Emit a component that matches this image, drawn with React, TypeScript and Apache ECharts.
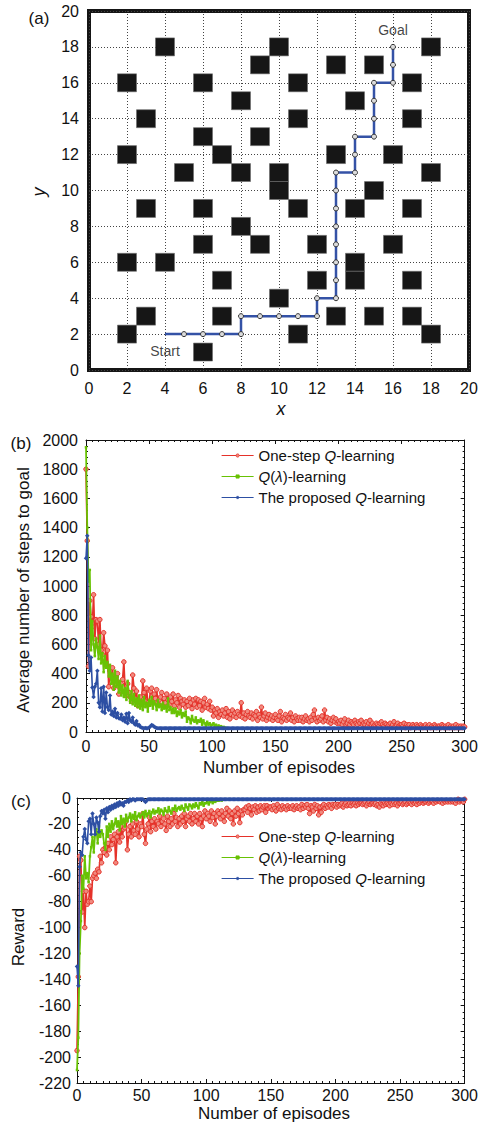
import React, { useEffect, useRef } from "react";
import * as echarts from "echarts";

const FONT = "'Liberation Sans', Arial, Helvetica, sans-serif";
const RED = "#e5322a";
const GREEN = "#68c204";
const BLUE = "#2d4fa3";

// ---------- Panel (a): grid world ----------
const obstacleX = [4, 10, 18, 9, 13, 15, 2, 6, 11, 17, 8, 14, 3, 11, 17, 6, 9, 2, 7, 13, 16, 5, 8, 10, 18, 10, 15, 3, 6, 11, 14, 17, 8, 6, 9, 12, 16, 2, 4, 14, 7, 12, 14, 17, 10, 3, 7, 13, 15, 17, 2, 11, 18, 6];
const obstacleY = [18, 18, 18, 17, 17, 17, 16, 16, 16, 16, 15, 15, 14, 14, 14, 13, 13, 12, 12, 12, 12, 11, 11, 11, 11, 10, 10, 9, 9, 9, 9, 9, 8, 7, 7, 7, 7, 6, 6, 6, 5, 5, 5, 5, 4, 3, 3, 3, 3, 3, 2, 2, 2, 1];
const pathX = [4, 5, 6, 7, 8, 8, 9, 10, 11, 12, 12, 13, 13, 13, 13, 13, 13, 13, 13, 14, 14, 14, 15, 15, 15, 15, 16, 16, 16];
const pathY = [2, 2, 2, 2, 2, 3, 3, 3, 3, 3, 4, 4, 5, 6, 7, 8, 9, 10, 11, 11, 12, 13, 13, 14, 15, 16, 16, 17, 18];
const pathLabels = ["Start", "Goal"];

// ---------- Panel (b): steps to goal per episode ----------
const seriesNames = ["One-step Q-learning", "Q(λ)-learning", "The proposed Q-learning"];

const redSteps = [
  1800, 1310, 450, 900, 790, 720, 940, 640, 770, 760,
  600, 770, 560, 530, 680, 590, 460, 560, 310, 420,
  370, 440, 300, 330, 380, 400, 260, 300, 330, 360,
  480, 280, 250, 330, 270, 240, 210, 390, 300, 230,
  280, 180, 220, 240, 200, 350, 270, 210, 300, 200,
  190, 280, 300, 210, 260, 230, 290, 200, 220, 240,
  270, 180, 230, 200, 260, 220, 190, 240, 210, 260,
  180, 220, 200, 250, 170, 230, 210, 190, 220, 170,
  210, 180, 230, 200, 160, 220, 190, 230, 170, 220,
  180, 210, 150, 200, 230, 170, 190, 160, 210, 150,
  170, 110, 150, 130, 160, 100, 140, 120, 150, 110,
  130, 160, 100, 140, 90, 120, 150, 110, 130, 100,
  140, 120, 110, 200, 100, 130, 90, 120, 140, 110,
  100, 130, 90, 120, 110, 140, 80, 120, 100, 170,
  90, 110, 130, 80, 100, 120, 90, 110, 80, 100,
  120, 90, 80, 110, 140, 70, 100, 90, 120, 80,
  100, 90, 130, 80, 100, 70, 110, 90, 80, 100,
  80, 100, 70, 90, 110, 80, 90, 70, 100, 80,
  120, 150, 90, 70, 100, 80, 90, 110, 70, 150,
  80, 100, 70, 90, 60, 80, 100, 70, 90, 60,
  70, 60, 80, 50, 70, 90, 50, 60, 80, 50,
  70, 60, 50, 80, 60, 50, 70, 60, 80, 50,
  60, 50, 70, 40, 60, 80, 50, 60, 40, 50,
  60, 50, 40, 60, 70, 50, 40, 60, 50, 40,
  50, 60, 40, 50, 70, 40, 50, 60, 40, 50,
  50, 40, 60, 30, 50, 40, 50, 30, 40, 50,
  40, 30, 50, 40, 30, 50, 40, 30, 40, 50,
  30, 40, 50, 30, 40, 30, 50, 40, 30, 40,
  40, 30, 50, 40, 30, 40, 30, 50, 30, 40,
  30, 40, 30, 50, 30, 40, 30, 40, 30, 40,
  35,
];

const greenSteps = [
  1950, 1400, 1030, 1110, 560, 760, 600, 520, 640, 580,
  500, 660, 470, 540, 410, 520, 440, 480, 380, 460,
  330, 400, 290, 420, 310, 380, 270, 350, 250, 320,
  240, 300, 220, 350, 250, 200, 280, 190, 260, 180,
  230, 170, 250, 160, 220, 150, 240, 170, 200, 140,
  220, 180, 240, 160, 210, 190, 150, 220, 170, 190,
  150, 200, 160, 180, 140, 230, 150, 170, 130, 160,
  130, 160, 110, 140, 120, 150, 100, 130, 110, 140,
  70, 100, 90, 60, 110, 80, 70, 100, 60, 80,
  70, 90, 50, 80, 60, 40, 70, 50, 60, 40,
  50, 60, 40, 50, 30, 45, 35, 40, 30, 35,
  30, 28, 25, 25,
];

const blueSteps = [
  1190, 1345, 525, 420, 510, 305, 240, 310, 330, 420,
  200, 170, 300, 140, 310, 130, 270, 170, 150, 250,
  120, 140, 110, 160, 100, 130, 95, 90, 120, 80,
  100, 70, 125, 60, 130, 80, 70, 100, 60, 50,
  75, 45, 50, 35, 30, 28, 26, 27, 25, 26,
  30, 38, 48, 45, 36, 30, 27, 26, 25, 25,
  25, 25, 25, 25, 25, 25, 25, 25, 25, 25, 25, 25, 25, 25, 25, 25, 25, 25, 25, 25,
  25, 25, 25, 25, 25, 25, 25, 25, 25, 25, 25, 25, 25, 25, 25, 25, 25, 25, 25, 25,
  25, 25, 25, 25, 25, 25, 25, 25, 25, 25, 25, 25, 25, 25, 25, 25, 25, 25, 25, 25,
  25, 25, 25, 25, 25, 25, 25, 25, 25, 25, 25, 25, 25, 25, 25, 25, 25, 25, 25, 25,
  25, 25, 25, 25, 25, 25, 25, 25, 25, 25, 25, 25, 25, 25, 25, 25, 25, 25, 25, 25,
  25, 25, 25, 25, 25, 25, 25, 25, 25, 25, 25, 25, 25, 25, 25, 25, 25, 25, 25, 25,
  25, 25, 25, 25, 25, 25, 25, 25, 25, 25, 25, 25, 25, 25, 25, 25, 25, 25, 25, 25,
  25, 25, 25, 25, 25, 25, 25, 25, 25, 25, 25, 25, 25, 25, 25, 25, 25, 25, 25, 25,
  25, 25, 25, 25, 25, 25, 25, 25, 25, 25, 25, 25, 25, 25, 25, 25, 25, 25, 25, 25,
  25, 25, 25, 25, 25, 25, 25, 25, 25, 25, 25, 25, 25, 25, 25, 25, 25, 25, 25, 25,
  25, 25, 25, 25, 25, 25, 25, 25, 25, 25, 25, 25, 25, 25, 25, 25, 25, 25, 25, 25,
  25, 25, 25, 25, 25, 25, 25, 25, 25, 25, 25, 25, 25, 25, 25, 25, 25, 25, 25, 25,
  25,
];

// ---------- Panel (c): reward per episode ----------
const redReward = [
  -195, -138, -45, -48, -88, -72, -100, -72, -82, -80,
  -68, -80, -62, -60, -58, -62, -55, -57, -45, -50,
  -40, -42, -38, -44, -35, -40, -30, -36, -32, -28,
  -50, -30, -26, -34, -22, -30, -24, -23, -18, -40,
  -28, -22, -30, -20, -25, -28, -18, -24, -30, -20,
  -22, -12, -28, -35, -24, -20, -15, -26, -18, -22,
  -16, -24, -18, -20, -14, -22, -18, -16, -20, -25,
  -14, -18, -22, -16, -20, -12, -18, -15, -22, -16,
  -20, -14, -18, -12, -22, -16, -14, -18, -12, -20,
  -16, -12, -18, -14, -20, -12, -16, -22, -14, -10,
  -16, -12, -14, -18, -10, -15, -12, -20, -14, -10,
  -12, -16, -10, -14, -18, -12, -8, -14, -10, -16,
  -12, -20, -10, -14, -8, -12, -19, -10, -13, -9,
  -9, -7, -11, -6, -8, -13, -7, -9, -6, -11,
  -7, -10, -6, -9, -7, -6, -11, -6, -8, -7,
  -7, -9, -6, -8, -10, -5, -8, -7, -9, -6,
  -8, -7, -9, -6, -8, -7, -8, -6, -9, -7,
  -6, -8, -7, -9, -5, -8, -6, -7, -5, -8,
  -12, -6, -7, -10, -5, -8, -6, -13, -7, -11,
  -6, -5, -8, -6, -7, -5, -6, -8, -5, -6,
  -5, -7, -5, -6, -5, -4, -7, -5, -4, -6,
  -5, -4, -6, -4, -5, -4, -6, -4, -5, -4,
  -4, -5, -4, -3, -6, -4, -3, -5, -4, -4,
  -5, -4, -6, -5, -7, -4, -5, -6, -4, -5,
  -4, -5, -6, -4, -5, -3, -5, -4, -6, -4,
  -4, -3, -5, -4, -3, -5, -4, -3, -4, -5,
  -3, -4, -3, -5, -3, -4, -3, -2, -4, -3,
  -3, -2, -4, -3, -2, -3, -4, -2, -3, -2,
  -2, -3, -2, -4, -2, -3, -2, -3, -2, -3,
  -2, -3, -2, -4, -2, -1, -3, -2, -2, -3,
  -1,
];

const greenReward = [
  -210, -185, -120, -95, -60, -70, -45, -62, -58, -65,
  -45, -38, -30, -42, -28, -24, -35, -22, -30, -25,
  -28, -35, -40, -22, -30, -20, -26, -18, -24, -20,
  -16, -22, -18, -25, -14, -20, -16, -22, -13, -18,
  -15, -12, -18, -13, -16, -11, -17, -14, -12, -15,
  -13, -11, -15, -10, -14, -12, -10, -15, -11, -9,
  -12, -10, -11, -8, -12, -9, -10, -13, -8, -10,
  -11, -7, -10, -12, -8, -9, -6, -10, -8, -7,
  -9, -6, -8, -10, -5, -7, -9, -5, -6, -8,
  -5, -7, -4, -6, -8, -4, -5, -3, -6, -4,
  -4, -3, -5, -3, -2, -4, -2, -3, -2, -2,
  -2, -1, -2, -1,
];

const blueReward = [
  -130, -145, -53, -42, -44, -30, -24, -32, -35, -18,
  -16, -28, -12, -20, -28, -15, -19, -26, -14, -10,
  -12, -9, -16, -8, -11, -7, -9, -6, -8, -5,
  -7, -4, -6, -3, -5, -4, -6, -3, -3, -2,
  -3, -1, -2, -1, -1, -2, -1, -1, -1, -1,
  -1, -1, -2, -3, -2, -1, -1, -1, -1, -1,
  -1, -1, -1, -1, -1, -1, -1, -1, -1, -1, -1, -1, -1, -1, -1, -1, -1, -1, -1, -1,
  -1, -1, -1, -1, -1, -1, -1, -1, -1, -1, -1, -1, -1, -1, -1, -1, -1, -1, -1, -1,
  -1, -1, -1, -1, -1, -1, -1, -1, -1, -1, -1, -1, -1, -1, -1, -1, -1, -1, -1, -1,
  -1, -1, -1, -1, -1, -1, -1, -1, -1, -1, -1, -1, -1, -1, -1, -1, -1, -1, -1, -1,
  -1, -1, -1, -1, -1, -1, -1, -1, -1, -1, -1, -1, -1, -1, -1, -1, -1, -1, -1, -1,
  -1, -1, -1, -1, -1, -1, -1, -1, -1, -1, -1, -1, -1, -1, -1, -1, -1, -1, -1, -1,
  -1, -1, -1, -1, -1, -1, -1, -1, -1, -1, -1, -1, -1, -1, -1, -1, -1, -1, -1, -1,
  -1, -1, -1, -1, -1, -1, -1, -1, -1, -1, -1, -1, -1, -1, -1, -1, -1, -1, -1, -1,
  -1, -1, -1, -1, -1, -1, -1, -1, -1, -1, -1, -1, -1, -1, -1, -1, -1, -1, -1, -1,
  -1, -1, -1, -1, -1, -1, -1, -1, -1, -1, -1, -1, -1, -1, -1, -1, -1, -1, -1, -1,
  -1, -1, -1, -1, -1, -1, -1, -1, -1, -1, -1, -1, -1, -1, -1, -1, -1, -1, -1, -1,
  -1, -1, -1, -1, -1, -1, -1, -1, -1, -1, -1, -1, -1, -1, -1, -1, -1, -1, -1, -1,
  -1,
];

const toPairs = (arr: number[]) => arr.map((v, i) => [i, v]);

function lineSeries(name: string, data: number[], xi: number, yi: number, kind: number) {
  const styles = [
    { symbol: "circle", symbolSize: 4.5, lineW: 1.7, color: RED, fill: "#f08a7f", border: RED, bw: 1 },
    { symbol: "rect", symbolSize: 2.5, lineW: 1.8, color: GREEN, fill: GREEN, border: GREEN, bw: 0 },
    { symbol: "diamond", symbolSize: 4.5, lineW: 1.6, color: BLUE, fill: BLUE, border: BLUE, bw: 0 },
  ][kind];
  return {
    name,
    type: "line",
    xAxisIndex: xi,
    yAxisIndex: yi,
    data: toPairs(data),
    symbol: styles.symbol,
    symbolSize: styles.symbolSize,
    showAllSymbol: true,
    lineStyle: { color: styles.color, width: styles.lineW },
    itemStyle: { color: styles.fill, borderColor: styles.border, borderWidth: styles.bw },
    emphasis: { disabled: true },
    z: 2 + kind,
  };
}

const frameAxis = (gridIndex: number, pos: string, min: number, max: number, interval: number, minorSplit: number, showLabel: boolean, margin: number) => ({
  gridIndex,
  type: "value",
  position: pos,
  min,
  max,
  interval,
  axisLine: { show: true, onZero: false, lineStyle: { color: "#111", width: 1 } },
  axisTick: { show: true, inside: true, length: 4, lineStyle: { color: "#111", width: 1 } },
  minorTick: { show: true, splitNumber: minorSplit, length: 2, lineStyle: { color: "#111", width: 1 } },
  axisLabel: {
    show: showLabel,
    fontSize: 16,
    color: "#111",
    margin,
    fontFamily: FONT,
    formatter: (v: number) => String(v),
  },
  splitLine: { show: false },
});

const legendFor = (top: number) => ({
  orient: "vertical",
  left: 216,
  top,
  itemWidth: 32,
  itemHeight: 4,
  itemGap: 6,
  data: seriesNames,
  lineStyle: { width: 1.2 },
  itemStyle: { borderWidth: 0.8 },
  formatter: (name: string) => name.replace("Q", "{i|Q}").replace("λ", "{i|λ}"),
  textStyle: {
    fontSize: 15,
    color: "#111",
    fontFamily: FONT,
    rich: { i: { fontStyle: "italic", fontSize: 15, color: "#111", fontFamily: FONT } },
  },
});

const txt = (text: string, x: number, y: number, size: number, extra: any = {}) => ({
  type: "text",
  x,
  y,
  rotation: extra.rotation || 0,
  silent: true,
  style: {
    text,
    fill: "#111",
    fontSize: size,
    fontFamily: FONT,
    fontStyle: extra.italic ? "italic" : "normal",
    align: "center",
    verticalAlign: "middle",
    textAlign: "center",
    textVerticalAlign: "middle",
  },
});

export default function App() {
  const ref = useRef<HTMLDivElement>(null);
  useEffect(() => {
    if (!ref.current) return;
    const chart = echarts.init(ref.current, null, { renderer: "svg" });
    const gridAxisA = {
      gridIndex: 0,
      type: "value",
      min: 0,
      max: 20,
      interval: 2,
      axisLine: { show: false },
      axisTick: { show: false },
      axisLabel: { fontSize: 16, color: "#111", margin: 10, fontFamily: FONT },
      splitLine: { show: true, lineStyle: { type: [1, 2], color: "#444", width: 1 } },
    };
    const option: any = {
      animation: false,
      textStyle: { fontFamily: FONT },
      grid: [
        { left: 89, top: 11, width: 380, height: 359, show: true, borderColor: "#151515", borderWidth: 4, backgroundColor: "transparent" },
        { left: 86, top: 440, width: 381, height: 292 },
        { left: 77, top: 798, width: 389, height: 285 },
      ],
      xAxis: [
        { ...gridAxisA },
        frameAxis(1, "bottom", 0, 300, 50, 10, true, 6),
        frameAxis(1, "top", 0, 300, 50, 10, false, 6),
        frameAxis(2, "bottom", 0, 300, 50, 10, true, 4),
        frameAxis(2, "top", 0, 300, 50, 10, false, 4),
      ],
      yAxis: [
        { ...gridAxisA },
        frameAxis(1, "left", 0, 2000, 200, 5, true, 8),
        frameAxis(1, "right", 0, 2000, 200, 5, false, 8),
        frameAxis(2, "left", -220, 0, 20, 4, true, 6),
        frameAxis(2, "right", -220, 0, 20, 4, false, 6),
      ],
      legend: [legendFor(443), legendFor(824)],
      series: [
        {
          type: "custom",
          xAxisIndex: 0,
          yAxisIndex: 0,
          silent: true,
          z: 2,
          data: obstacleX.map((x, i) => [x, obstacleY[i]]),
          renderItem: (params: any, api: any) => {
            const x = api.value(0);
            const y = api.value(1);
            const p1 = api.coord([x - 0.5, y + 0.5]);
            const p2 = api.coord([x + 0.5, y - 0.5]);
            return {
              type: "rect",
              shape: { x: p1[0], y: p1[1], width: p2[0] - p1[0], height: p2[1] - p1[1] },
              style: { fill: "#161616", stroke: "#6a6a6a", lineWidth: 0.6 },
            };
          },
        },
        {
          type: "line",
          xAxisIndex: 0,
          yAxisIndex: 0,
          z: 4,
          data: pathX.map((x, i) => (i === 0 ? { value: [x, pathY[i]], symbol: "none" } : [x, pathY[i]])),
          symbol: "circle",
          symbolSize: 5,
          lineStyle: { color: "#3452a6", width: 2.5 },
          itemStyle: { color: "#dcdcdc", borderColor: "#333", borderWidth: 1 },
          emphasis: { disabled: true },
        },
        {
          type: "scatter",
          xAxisIndex: 0,
          yAxisIndex: 0,
          z: 5,
          symbolSize: 1,
          itemStyle: { color: "transparent" },
          data: [
            { name: pathLabels[0], value: [pathX[0], pathY[0]], label: { position: "bottom", distance: 9 } },
            { name: pathLabels[1], value: [pathX[pathX.length - 1], pathY[pathY.length - 1]], label: { position: "top", distance: 9 } },
          ],
          label: { show: true, formatter: "{b}", fontSize: 14, color: "#111", fontFamily: FONT },
          emphasis: { disabled: true },
        },
        lineSeries(seriesNames[0], redSteps, 1, 1, 0),
        lineSeries(seriesNames[1], greenSteps, 1, 1, 1),
        lineSeries(seriesNames[2], blueSteps, 1, 1, 2),
        lineSeries(seriesNames[0], redReward, 3, 3, 0),
        lineSeries(seriesNames[1], greenReward, 3, 3, 1),
        lineSeries(seriesNames[2], blueReward, 3, 3, 2),
      ],
      graphic: [
        txt("(a)", 39, 18, 17),
        txt("y", 39, 192, 18, { italic: true, rotation: Math.PI / 2 }),
        txt("x", 281, 409, 18, { italic: true }),
        txt("(b)", 21, 443, 17),
        txt("Average number of steps to goal", 23, 590, 17, { rotation: Math.PI / 2 }),
        txt("Number of episodes", 279, 767, 17),
        txt("(c)", 21, 801, 17),
        txt("Reward", 18, 937, 17, { rotation: Math.PI / 2 }),
        txt("Number of episodes", 274, 1113, 17),
      ],
    };
    chart.setOption(option);
    return () => chart.dispose();
  }, []);
  return (
    <div
      ref={ref}
      style={{ position: "absolute", left: 0, top: 0, width: 481, height: 1126, background: "#fff" }}
    />
  );
}
